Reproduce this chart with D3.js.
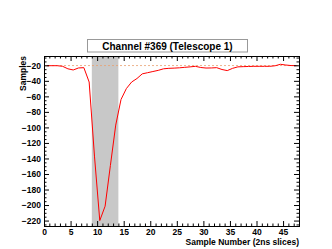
<!DOCTYPE html>
<html>
<head>
<meta charset="utf-8">
<script src="https://cdn.jsdelivr.net/npm/d3@7"></script>
<style>
  body { margin: 0; background: #fff; }
  svg { display: block; font-family: "Liberation Sans", Arial, sans-serif; font-weight: bold; }
  .axis path, .axis line { stroke: #000; }
  .axis text { font-size: 8.5px; font-weight: bold; fill: #000; }
</style>
</head>
<body>
<svg id="chart" width="332" height="249"></svg>
<script>
// Data
const titleText = 'Channel #369 (Telescope 1)';
const xLabel = 'Sample Number (2ns slices)';
const yLabel = 'Samples';

const sampleIndex = d3.range(48);
const sampleValues = [
  -20.5, -20.5, -20.5, -21.3, -24.5, -26, -23.4, -23, -41.5, -137,
  -220, -201.5, -149, -97, -64, -50, -41.5, -37, -31, -29.5,
  -28, -26.5, -24.5, -23.9, -23.6, -23.2, -22.6, -22, -21.3, -22.8,
  -23.5, -23.4, -23, -25.4, -26.8, -23.9, -22, -21.7, -21.5, -21.3,
  -21.3, -21.3, -21.3, -20.6, -18.7, -19.6, -20.3, -20.4
];
const pedestal = -20.3;
const windowRange = [9, 14];

const xDomain = [0, 48];
const yDomain = [-227, -8];
const xMajorTicks = [0, 5, 10, 15, 20, 25, 30, 35, 40, 45];
const yMajorTicks = [-220, -200, -180, -160, -140, -120, -100, -80, -60, -40, -20];

const margin = { left: 44, right: 33, top: 56, bottom: 23 };
const width = 332 - margin.left - margin.right;
const height = 249 - margin.top - margin.bottom;

const svg = d3.select('#chart');
const g = svg.append('g')
  .attr('transform', `translate(${margin.left},${margin.top})`);

const xScale = d3.scaleLinear().domain(xDomain).range([0, width]);
const yScale = d3.scaleLinear().domain(yDomain).range([height, 0]);

// Integration window
g.append('rect')
  .attr('x', xScale(windowRange[0]))
  .attr('width', xScale(windowRange[1]) - xScale(windowRange[0]))
  .attr('y', 0)
  .attr('height', height)
  .attr('fill', '#c8c8c8');

// Pedestal line
g.append('line')
  .attr('x1', 0)
  .attr('x2', width)
  .attr('y1', yScale(pedestal))
  .attr('y2', yScale(pedestal))
  .attr('stroke', '#e8a070')
  .attr('stroke-width', 0.8)
  .attr('stroke-dasharray', '2,2');

// Trace
const line = d3.line()
  .x((d, i) => xScale(sampleIndex[i] + 0.5))
  .y(d => yScale(d));

g.append('path')
  .datum(sampleValues)
  .attr('fill', 'none')
  .attr('stroke', '#ff0000')
  .attr('stroke-width', 1)
  .attr('d', line);

// Axes (ticks inward, mirrored on top and right)
const xMinor = d3.range(0, 49, 1).filter(v => v % 5 !== 0);
const yMinor = d3.range(-225, -8, 5).filter(v => v % 20 !== 0);

function addAxis(axis, transform) {
  g.append('g').attr('class', 'axis').attr('transform', transform).call(axis)
    .call(a => a.select('.domain').attr('stroke-width', 1));
}

addAxis(d3.axisBottom(xScale).tickValues(xMajorTicks).tickSize(-5).tickPadding(3).tickFormat(d3.format('d')),
  `translate(0,${height})`);
addAxis(d3.axisBottom(xScale).tickValues(xMinor).tickSize(-2.5).tickFormat(''),
  `translate(0,${height})`);
addAxis(d3.axisTop(xScale).tickValues(xMajorTicks).tickSize(-5).tickFormat(''), 'translate(0,0)');
addAxis(d3.axisTop(xScale).tickValues(xMinor).tickSize(-2.5).tickFormat(''), 'translate(0,0)');

addAxis(d3.axisLeft(yScale).tickValues(yMajorTicks).tickSize(-5).tickPadding(3).tickFormat(d3.format('d')),
  'translate(0,0)');
addAxis(d3.axisLeft(yScale).tickValues(yMinor).tickSize(-2.5).tickFormat(''), 'translate(0,0)');
addAxis(d3.axisRight(yScale).tickValues(yMajorTicks).tickSize(-5).tickFormat(''), `translate(${width},0)`);
addAxis(d3.axisRight(yScale).tickValues(yMinor).tickSize(-2.5).tickFormat(''), `translate(${width},0)`);

g.selectAll('.axis .domain').attr('stroke', '#000');

// Axis titles
svg.append('text')
  .attr('x', margin.left + width)
  .attr('y', 245)
  .attr('text-anchor', 'end')
  .attr('font-size', 8.5)
  .text(xLabel);

svg.append('text')
  .attr('transform', `translate(26,${margin.top}) rotate(-90)`)
  .attr('text-anchor', 'end')
  .attr('font-size', 8.5)
  .text(yLabel);

// Title box
const titleBox = svg.append('g');
titleBox.append('rect')
  .attr('x', 87.5)
  .attr('y', 39.5)
  .attr('width', 160)
  .attr('height', 12.5)
  .attr('fill', '#fff')
  .attr('stroke', '#999')
  .attr('stroke-width', 1);

titleBox.append('text')
  .attr('x', 167.5)
  .attr('y', 50)
  .attr('text-anchor', 'middle')
  .attr('font-size', 10)
  .text(titleText);
</script>
</body>
</html>
